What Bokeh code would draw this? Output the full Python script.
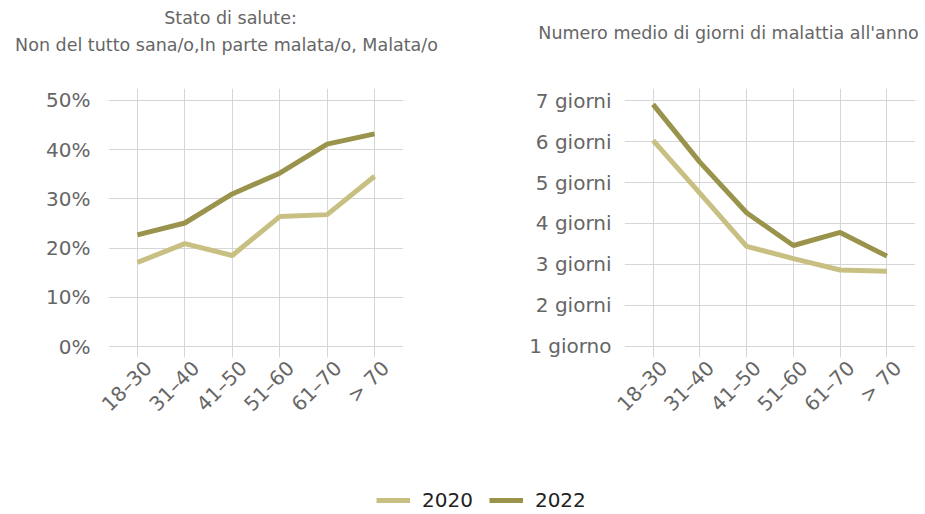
from bokeh.plotting import figure
from bokeh.models import Range1d, FixedTicker, Legend, LegendItem, LinearAxis
from bokeh.core.properties import value
from bokeh.layouts import column, row
from bokeh.embed import file_html
from bokeh.resources import INLINE

categories = ["18–30", "31–40", "41–50", "51–60", "61–70", "> 70"]
years = ["2020", "2022"]
health_2020 = [17.1, 20.9, 18.5, 26.4, 26.8, 34.6]
health_2022 = [22.7, 25.1, 31.0, 35.2, 41.1, 43.2]
days_2020 = [6.03, 4.74, 3.44, 3.14, 2.86, 2.83]
days_2022 = [6.91, 5.50, 4.26, 3.46, 3.78, 3.20]
pct_ticks = [0, 10, 20, 30, 40, 50]
pct_labels = ["0%", "10%", "20%", "30%", "40%", "50%"]
day_ticks = [1, 2, 3, 4, 5, 6, 7]
day_labels = ["1 giorno", "2 giorni", "3 giorni", "4 giorni", "5 giorni", "6 giorni", "7 giorni"]
titles = ["Stato di salute:", "Non del tutto sana/o,In parte malata/o, Malata/o",
          "Numero medio di giorni di malattia all'anno"]

colors = {"2020": "#c8c082", "2022": "#9a934c"}
FONT = "DejaVu Sans"
GRAY = "#666666"
GRID = "#d6d6d6"
HEADER_H = 70
xpos = list(range(len(categories)))   # category index positions
X_LO, X_HI = -0.61, len(categories) - 1 + 0.61
LABEL_SHIFT = 0.23                     # nudge rotated labels right of their tick


def make_chart(width, border_left, border_right, border_top, y_lo, y_hi, ticks, labels, standoff):
    p = figure(width=width, height=400, output_backend="svg", toolbar_location=None,
               x_range=Range1d(X_LO, X_HI), y_range=Range1d(y_lo, y_hi),
               min_border_left=border_left, min_border_right=border_right,
               min_border_top=border_top, min_border_bottom=113)
    p.xaxis.visible = False
    p.xgrid.ticker = FixedTicker(ticks=xpos)
    p.xgrid.grid_line_color = GRID
    p.ygrid.grid_line_color = GRID
    p.ygrid.ticker = FixedTicker(ticks=ticks)
    p.yaxis.ticker = FixedTicker(ticks=ticks)
    p.yaxis.major_label_overrides = dict(zip(ticks, labels))
    p.yaxis.major_label_standoff = standoff
    p.extra_x_ranges = {"lab": Range1d(X_LO - LABEL_SHIFT, X_HI - LABEL_SHIFT)}
    xa = LinearAxis(x_range_name="lab", ticker=FixedTicker(ticks=xpos),
                    major_label_overrides=dict(zip(xpos, categories)),
                    major_label_orientation=0.785398, major_label_standoff=1)
    p.add_layout(xa, "below")
    for ax in (xa, p.yaxis[0]):
        ax.axis_line_color = None
        ax.major_tick_line_color = None
        ax.minor_tick_line_color = None
        ax.major_label_text_font = FONT
        ax.major_label_text_font_size = "20px"
        ax.major_label_text_color = GRAY
    p.outline_line_color = None
    p.background_fill_color = None
    p.border_fill_color = None
    return p


# Header with the chart titles (pixel-like coordinates, y downwards)
ph = figure(width=925, height=HEADER_H, output_backend="svg", toolbar_location=None,
            x_range=Range1d(0, 925), y_range=Range1d(HEADER_H, 0), min_border=0)
ph.axis.visible = False
ph.grid.visible = False
ph.outline_line_color = None
ph.text(x=[230, 226, 728], y=[17, 44, 32], text=titles,
        text_font=value(FONT), text_font_size="17.5px", text_color=GRAY,
        text_align="center", text_baseline="middle")

# Left chart
p1 = make_chart(468, 108, 65, 88 - HEADER_H, -2.2, 52.4, pct_ticks, pct_labels, 12)
p1.line(xpos, health_2020, line_color=colors["2020"], line_width=5)
p1.line(xpos, health_2022, line_color=colors["2022"], line_width=5)

# Right chart
p2 = make_chart(457, 156, 10, 83 - HEADER_H, 0.72, 7.30, day_ticks, day_labels, 7)
p2.line(xpos, days_2020, line_color=colors["2020"], line_width=5)
p2.line(xpos, days_2022, line_color=colors["2022"], line_width=5)

# Legend strip
pl = figure(width=925, height=44, output_backend="svg", toolbar_location=None,
            x_range=Range1d(0, 1), y_range=Range1d(0, 1), min_border=0)
pl.axis.visible = False
pl.grid.visible = False
pl.outline_line_color = None
items = []
for y in years:
    r = pl.line(x=[-5, -4], y=[-5, -5], line_color=colors[y], line_width=5)
    items.append(LegendItem(label=y, renderers=[r]))
leg = Legend(items=items, orientation="horizontal", location=(376, 2),
             label_text_font=FONT, label_text_font_size="20px", label_text_color="#222222",
             glyph_width=34, glyph_height=20, label_standoff=12, spacing=16,
             border_line_color=None, background_fill_alpha=0, padding=2, margin=0)
pl.add_layout(leg, "center")

layout = column(ph, row(p1, p2), pl)
open("out.html", "w").write(file_html(layout, INLINE))
